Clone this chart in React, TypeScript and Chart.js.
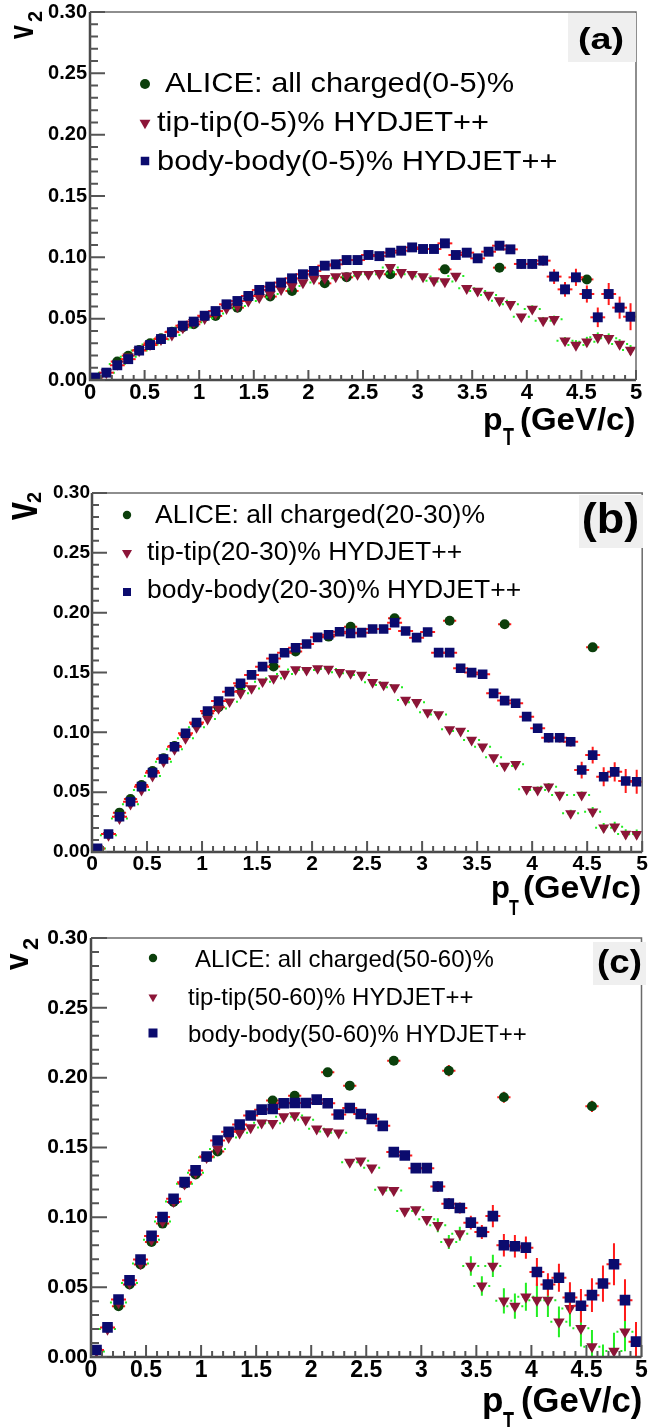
import React, { useEffect, useRef } from 'react';
import { Chart, registerables } from 'chart.js';

Chart.register(...registerables);

const FONT = '"Liberation Sans", Arial, Helvetica, sans-serif';
const SQ_COLOR = '#0b0b6e';
const TRI_COLOR = '#8c1538';
const CIR_COLOR = '#0b3f0b';
const PAGE_W = 649;

// ---------- tick labels ----------
const X_TICKS = [0, 0.5, 1, 1.5, 2, 2.5, 3, 3.5, 4, 4.5, 5];
const X_LABELS = ['0', '0.5', '1', '1.5', '2', '2.5', '3', '3.5', '4', '4.5', '5'];
const Y_TICKS = [0, 0.05, 0.1, 0.15, 0.2, 0.25, 0.3];
const Y_LABELS = ['0.00', '0.05', '0.10', '0.15', '0.20', '0.25', '0.30'];

// ---------- categories (pT bin centres, GeV/c) ----------
const PT = [0.05, 0.15, 0.25, 0.35, 0.45, 0.55, 0.65, 0.75, 0.85, 0.95,
  1.05, 1.15, 1.25, 1.35, 1.45, 1.55, 1.65, 1.75, 1.85, 1.95,
  2.05, 2.15, 2.25, 2.35, 2.45, 2.55, 2.65, 2.75, 2.85, 2.95,
  3.05, 3.15, 3.25, 3.35, 3.45, 3.55, 3.65, 3.75, 3.85, 3.95,
  4.05, 4.15, 4.25, 4.35, 4.45, 4.55, 4.65, 4.75, 4.85, 4.95];
const ALICE_PT = [0.25, 0.35, 0.45, 0.55, 0.65, 0.75, 0.85, 0.95, 1.05, 1.15,
  1.35, 1.65, 1.85, 2.15, 2.35, 2.75, 3.25, 3.75, 4.55];

// ---------- panel (a) 0-5% ----------
const ALICE_A = [0.015, 0.0198, 0.0245, 0.0299, 0.034, 0.0394, 0.043, 0.0454, 0.0516, 0.0522,
  0.059, 0.068, 0.0726, 0.0788, 0.0837, 0.0862, 0.0902, 0.0916, 0.082];
const ALICE_A_ERR = [0.001, 0.001, 0.001, 0.001, 0.001, 0.001, 0.001, 0.001, 0.001, 0.001,
  0.0015, 0.002, 0.002, 0.002, 0.002, 0.002, 0.002, 0.003, 0.003];
const TT_A = [0.003, 0.006, 0.013, 0.019, 0.024, 0.029, 0.033, 0.0367, 0.0427, 0.047,
  0.0503, 0.0543, 0.0584, 0.0603, 0.0644, 0.0674, 0.0701, 0.0739, 0.0766, 0.0794,
  0.0826, 0.083, 0.0843, 0.085, 0.0862, 0.0862, 0.0869, 0.0918, 0.0878, 0.0862,
  0.0843, 0.081, 0.0802, 0.0848, 0.0747, 0.0726, 0.0693, 0.0647, 0.0617, 0.0516,
  0.0579, 0.0484, 0.0495, 0.032, 0.0285, 0.0312, 0.0348, 0.034, 0.0293, 0.0245];
const TT_A_ERR = [0.001, 0.001, 0.001, 0.001, 0.001, 0.001, 0.001, 0.001, 0.001, 0.001,
  0.001, 0.001, 0.001, 0.001, 0.001, 0.001, 0.001, 0.001, 0.001, 0.001,
  0.001, 0.001, 0.001, 0.001, 0.001, 0.001, 0.001, 0.001, 0.001, 0.001,
  0.002, 0.002, 0.002, 0.002, 0.002, 0.002, 0.002, 0.002, 0.002, 0.002,
  0.003, 0.003, 0.003, 0.003, 0.004, 0.004, 0.004, 0.004, 0.004, 0.004];
const BB_A = [0.002, 0.006, 0.012, 0.017, 0.024, 0.0285, 0.0334, 0.039, 0.0443, 0.0476,
  0.0524, 0.0562, 0.0617, 0.0644, 0.0685, 0.0734, 0.0761, 0.0794, 0.0829, 0.0862,
  0.0889, 0.0932, 0.0943, 0.0978, 0.0978, 0.1019, 0.101, 0.1038, 0.1054, 0.1081,
  0.1068, 0.1068, 0.1114, 0.1019, 0.1038, 0.0992, 0.1046, 0.1095, 0.1065, 0.0946,
  0.0946, 0.0973, 0.0843, 0.0739, 0.0837, 0.0701, 0.0511, 0.0701, 0.059, 0.0516];
const BB_A_ERR = [0.001, 0.001, 0.001, 0.001, 0.001, 0.001, 0.001, 0.001, 0.001, 0.001,
  0.001, 0.001, 0.001, 0.001, 0.001, 0.001, 0.001, 0.001, 0.001, 0.001,
  0.001, 0.001, 0.001, 0.001, 0.001, 0.002, 0.002, 0.002, 0.002, 0.002,
  0.002, 0.002, 0.002, 0.002, 0.002, 0.002, 0.003, 0.003, 0.003, 0.004,
  0.004, 0.004, 0.006, 0.006, 0.007, 0.007, 0.008, 0.009, 0.009, 0.011];

// ---------- panel (b) 20-30% ----------
const ALICE_B = [0.0329, 0.0443, 0.056, 0.0677, 0.0783, 0.0885, 0.098, 0.107, 0.116, 0.121,
  0.139, 0.155, 0.1675, 0.18, 0.1883, 0.1953, 0.1933, 0.1903, 0.171];
const ALICE_B_ERR = [0.001, 0.001, 0.001, 0.001, 0.001, 0.001, 0.001, 0.001, 0.001, 0.001,
  0.002, 0.002, 0.002, 0.002, 0.002, 0.002, 0.002, 0.003, 0.003];
const TT_B = [0.003, 0.014, 0.028, 0.04, 0.0518, 0.0635, 0.0755, 0.0858, 0.095, 0.1042,
  0.1111, 0.12, 0.1256, 0.1326, 0.1367, 0.1423, 0.1451, 0.1487, 0.1526, 0.152,
  0.1534, 0.153, 0.1502, 0.1493, 0.1479, 0.1418, 0.1396, 0.1376, 0.127, 0.1251,
  0.1167, 0.115, 0.1025, 0.1011, 0.0936, 0.088, 0.0791, 0.0719, 0.0733, 0.0524,
  0.0518, 0.0546, 0.0476, 0.0323, 0.0476, 0.0337, 0.0203, 0.0212, 0.015, 0.0148];
const TT_B_ERR = [0.001, 0.001, 0.001, 0.001, 0.001, 0.001, 0.001, 0.001, 0.001, 0.001,
  0.001, 0.001, 0.001, 0.001, 0.001, 0.001, 0.001, 0.001, 0.001, 0.001,
  0.001, 0.001, 0.001, 0.001, 0.001, 0.001, 0.001, 0.001, 0.001, 0.001,
  0.002, 0.002, 0.002, 0.002, 0.002, 0.002, 0.002, 0.002, 0.002, 0.002,
  0.003, 0.003, 0.003, 0.003, 0.003, 0.004, 0.004, 0.004, 0.004, 0.004];
const BB_B = [0.003, 0.015, 0.0295, 0.042, 0.0546, 0.0663, 0.0777, 0.088, 0.0992, 0.1082,
  0.1178, 0.1262, 0.134, 0.141, 0.148, 0.1549, 0.1617, 0.1665, 0.1707, 0.1738,
  0.1794, 0.1816, 0.184, 0.1827, 0.1833, 0.1863, 0.1863, 0.1916, 0.1847, 0.1791,
  0.1838, 0.1666, 0.1666, 0.1535, 0.1499, 0.1485, 0.1326, 0.1265, 0.1243, 0.1131,
  0.1034, 0.0955, 0.0955, 0.0921, 0.0685, 0.081, 0.0629, 0.067, 0.0593, 0.0587];
const BB_B_ERR = [0.001, 0.001, 0.001, 0.001, 0.001, 0.001, 0.001, 0.001, 0.001, 0.001,
  0.001, 0.001, 0.001, 0.001, 0.001, 0.001, 0.001, 0.001, 0.001, 0.001,
  0.001, 0.001, 0.001, 0.001, 0.001, 0.001, 0.001, 0.001, 0.001, 0.001,
  0.002, 0.002, 0.002, 0.002, 0.002, 0.002, 0.002, 0.002, 0.003, 0.003,
  0.003, 0.004, 0.004, 0.004, 0.007, 0.007, 0.008, 0.008, 0.01, 0.01];

// ---------- panel (c) 50-60% ----------
const ALICE_C = [0.0364, 0.0519, 0.0662, 0.0824, 0.0955, 0.111, 0.124, 0.1307, 0.143, 0.1471,
  0.163, 0.1836, 0.1871, 0.2038, 0.1943, 0.2121, 0.205, 0.186, 0.1795];
const ALICE_C_ERR = [0.002, 0.002, 0.002, 0.002, 0.002, 0.002, 0.002, 0.002, 0.002, 0.002,
  0.003, 0.003, 0.003, 0.003, 0.003, 0.003, 0.004, 0.004, 0.004];
const TT_C = [0.004, 0.02, 0.039, 0.053, 0.067, 0.084, 0.097, 0.1114, 0.124, 0.132,
  0.143, 0.149, 0.1572, 0.1605, 0.1643, 0.1677, 0.1674, 0.1721, 0.1729, 0.1698,
  0.1634, 0.1615, 0.1605, 0.1395, 0.1405, 0.1355, 0.1198, 0.1193, 0.1045, 0.1055,
  0.0986, 0.0943, 0.0824, 0.0883, 0.0652, 0.0509, 0.0652, 0.0402, 0.0364, 0.0431,
  0.0407, 0.0407, 0.0252, 0.0348, 0.0205, 0.0074, -0.004, 0.0043, 0.0181, -0.003];
const TT_C_ERR = [0.001, 0.001, 0.001, 0.001, 0.001, 0.001, 0.001, 0.001, 0.001, 0.001,
  0.001, 0.001, 0.001, 0.001, 0.001, 0.001, 0.001, 0.001, 0.001, 0.001,
  0.001, 0.001, 0.001, 0.002, 0.002, 0.002, 0.002, 0.002, 0.002, 0.002,
  0.002, 0.005, 0.005, 0.005, 0.007, 0.007, 0.008, 0.009, 0.009, 0.01,
  0.012, 0.012, 0.011, 0.013, 0.013, 0.012, 0.013, 0.013, 0.014, 0.014];
const BB_C = [0.005, 0.0212, 0.0412, 0.055, 0.0698, 0.0867, 0.1002, 0.1133, 0.1252, 0.1336,
  0.1436, 0.155, 0.1612, 0.1665, 0.1729, 0.1771, 0.1776, 0.1817, 0.1819, 0.1819,
  0.1843, 0.1817, 0.1736, 0.1783, 0.174, 0.1705, 0.1655, 0.1467, 0.1443, 0.1352,
  0.1352, 0.1221, 0.1098, 0.1067, 0.0962, 0.0895, 0.1009, 0.08, 0.0793, 0.0783,
  0.0609, 0.0519, 0.0567, 0.0426, 0.0367, 0.0443, 0.0526, 0.0664, 0.0407, 0.011];
const BB_C_ERR = [0.001, 0.001, 0.001, 0.001, 0.001, 0.001, 0.001, 0.001, 0.001, 0.001,
  0.001, 0.001, 0.001, 0.001, 0.001, 0.001, 0.001, 0.001, 0.001, 0.001,
  0.001, 0.001, 0.001, 0.001, 0.001, 0.002, 0.002, 0.002, 0.002, 0.002,
  0.002, 0.004, 0.004, 0.004, 0.005, 0.005, 0.008, 0.008, 0.008, 0.008,
  0.01, 0.008, 0.01, 0.011, 0.012, 0.012, 0.013, 0.015, 0.015, 0.014];

// ---------- legend texts ----------
const LEGEND_A = ['ALICE: all charged(0-5)%', 'tip-tip(0-5)% HYDJET++', 'body-body(0-5)% HYDJET++'];
const LEGEND_B = ['ALICE: all charged(20-30)%', 'tip-tip(20-30)% HYDJET++', 'body-body(20-30)% HYDJET++'];
const LEGEND_C = ['ALICE: all charged(50-60)%', 'tip-tip(50-60)% HYDJET++', 'body-body(50-60)% HYDJET++'];

// ---------- layout (styles / positions only) ----------
const PANELS = [
  {
    key: 'a', top: 0, height: 460,
    area: { l: 90, t: 12, r: 636, b: 380 },
    alice: ALICE_A, aliceErr: ALICE_A_ERR, tt: TT_A, ttErr: TT_A_ERR, bb: BB_A, bbErr: BB_A_ERR, legend: LEGEND_A,
    yFont: 20, xFont: 22, yPad: 3, xPad: 0,
    ticks: { yMaj: 15, yMin: 8, xMaj: 10, xMin: 5 },
    marker: { rect: 7, tri: 6.6, cir: 5 },
    box: { x: 568, y: 13, w: 68, h: 49, text: '(a)', font: 29, sx: 1.3, cx: 601, base: 49 },
    leg: { mx: 145, rows: [84, 123, 161], tx: [165, 157, 157], base: [92, 131, 170], font: 28, sx: 1.1, cir: 5, tri: 6.3, sq: 8.5 },
    vT: { bx: 33, by: 39, font: 25, sy: 1.38, sbx: 42, su: 17, sfont: 20 },
    xT: { px: 483, py: 430, pfont: 32, tx: 503, ty: 445, tfont: 18, tsy: 1.3, rx: 520, rfont: 32, rsx: 1.03 },
  },
  {
    key: 'b', top: 460, height: 465,
    area: { l: 92, t: 33, r: 643, b: 392 },
    alice: ALICE_B, aliceErr: ALICE_B_ERR, tt: TT_B, ttErr: TT_B_ERR, bb: BB_B, bbErr: BB_B_ERR, legend: LEGEND_B,
    yFont: 19, xFont: 21, yPad: 2, xPad: 0,
    ticks: { yMaj: 15, yMin: 7, xMaj: 11, xMin: 6 },
    marker: { rect: 6.8, tri: 6.4, cir: 5 },
    box: { x: 579, y: 35, w: 64, h: 53, text: '(b)', font: 42, sx: 1.07, cx: 610.5, base: 73 },
    leg: { mx: 127, rows: [55, 93, 132], tx: [155, 147, 147], base: [63, 100, 138], font: 25, sx: 1.06, cir: 4.2, tri: 5.8, sq: 8 },
    vT: { bx: 37, by: 60, font: 32, sy: 1.43, sbx: 41, su: 17, sfont: 20 },
    xT: { px: 491, py: 438, pfont: 31, tx: 509, ty: 455, tfont: 16, tsy: 1.35, rx: 523, rfont: 31, rsx: 1.09 },
  },
  {
    key: 'c', top: 925, height: 502,
    area: { l: 91, t: 13, r: 648, b: 432 },
    alice: ALICE_C, aliceErr: ALICE_C_ERR, tt: TT_C, ttErr: TT_C_ERR, bb: BB_C, bbErr: BB_C_ERR, legend: LEGEND_C,
    yFont: 21, xFont: 23, yPad: 3, xPad: 0,
    ticks: { yMaj: 16, yMin: 8, xMaj: 12, xMin: 6 },
    marker: { rect: 7.5, tri: 6.6, cir: 5 },
    box: { x: 593, y: 17, w: 53, h: 43, text: '(c)', font: 34, sx: 1.08, cx: 619.5, base: 48 },
    leg: { mx: 153, rows: [33, 72, 108], tx: [195, 188, 188], base: [42, 80, 117], font: 24, sx: 1.0, cir: 4.2, tri: 5.2, sq: 9 },
    vT: { bx: 28, by: 45, font: 30, sy: 1.13, sbx: 38, su: 20, sfont: 22 },
    xT: { px: 482, py: 487, pfont: 35, tx: 503, ty: 505, tfont: 18, tsy: 1.4, rx: 521, rfont: 35, rsx: 0.99 },
  },
];

function drawMarker(ctx: CanvasRenderingContext2D, style: string, x: number, y: number, size: number, color: string) {
  ctx.fillStyle = color;
  ctx.beginPath();
  if (style === 'circle') {
    ctx.arc(x, y, size, 0, Math.PI * 2);
  } else if (style === 'triangle') {
    ctx.moveTo(x, y + size);
    ctx.lineTo(x - size * 0.866, y - size * 0.5);
    ctx.lineTo(x + size * 0.866, y - size * 0.5);
    ctx.closePath();
  } else {
    ctx.rect(x - size / 2, y - size / 2, size, size);
  }
  ctx.fill();
}

function drawText(ctx: CanvasRenderingContext2D, s: string, x: number, y: number, font: string, sx = 1, align: CanvasTextAlign = 'left', sy = 1) {
  ctx.save();
  ctx.translate(x, y);
  ctx.scale(sx, sy);
  ctx.font = font;
  ctx.fillStyle = '#000';
  ctx.textAlign = align;
  ctx.textBaseline = 'alphabetic';
  ctx.fillText(s, 0, 0);
  ctx.restore();
}

function makePlugin(P: any) {
  return {
    id: 'rootDecor' + P.key,
    beforeDatasetDraw(chart: any, args: any) {
      const ds: any = chart.data.datasets[args.index];
      if (!ds.errY) return;
      const { ctx, chartArea: ca } = chart;
      const xs = chart.scales.x;
      const ys = chart.scales.y;
      ctx.save();
      ctx.beginPath();
      ctx.rect(ca.left, ca.top, ca.right - ca.left, ca.bottom - ca.top);
      ctx.clip();
      ctx.strokeStyle = ds.errColor;
      ctx.lineWidth = 2;
      ds.data.forEach((p: any, i: number) => {
        const px = xs.getPixelForValue(p.x);
        const py = ys.getPixelForValue(p.y);
        const e = ds.errY[i];
        ctx.setLineDash(ds.hDash || []);
        ctx.beginPath();
        ctx.moveTo(xs.getPixelForValue(p.x - ds.errX), py);
        ctx.lineTo(xs.getPixelForValue(p.x + ds.errX), py);
        ctx.stroke();
        ctx.setLineDash([]);
        ctx.beginPath();
        ctx.moveTo(px, ys.getPixelForValue(p.y - e));
        ctx.lineTo(px, ys.getPixelForValue(p.y + e));
        ctx.stroke();
      });
      ctx.restore();
    },
    afterDraw(chart: any) {
      const { ctx, chartArea: ca } = chart;
      const xs = chart.scales.x;
      const ys = chart.scales.y;
      ctx.save();
      ctx.strokeStyle = '#6a6a6a';
      ctx.lineWidth = 1.5;
      ctx.beginPath();
      ctx.moveTo(ca.left, ca.top);
      ctx.lineTo(ca.right, ca.top);
      ctx.lineTo(ca.right, ca.bottom);
      ctx.stroke();
      ctx.strokeStyle = '#4a4a4a';
      ctx.lineWidth = 2.5;
      ctx.beginPath();
      ctx.moveTo(ca.left, ca.top);
      ctx.lineTo(ca.left, ca.bottom);
      ctx.lineTo(ca.right, ca.bottom);
      ctx.stroke();
      ctx.lineWidth = 2;
      ctx.strokeStyle = '#555';
      ctx.beginPath();
      for (let k = 0; k <= 30; k++) {
        const py = ys.getPixelForValue(k / 100);
        const len = k % 5 === 0 ? P.ticks.yMaj : P.ticks.yMin;
        ctx.moveTo(ca.left, py);
        ctx.lineTo(ca.left + len, py);
      }
      for (let k = 0; k <= 50; k++) {
        const px = xs.getPixelForValue(k / 10);
        const len = k % 5 === 0 ? P.ticks.xMaj : P.ticks.xMin;
        ctx.moveTo(px, ca.bottom);
        ctx.lineTo(px, ca.bottom - len);
      }
      ctx.stroke();

      const B = P.box;
      ctx.fillStyle = '#efefef';
      ctx.fillRect(B.x, B.y, B.w, B.h);
      drawText(ctx, B.text, B.cx, B.base, `bold ${B.font}px ${FONT}`, B.sx, 'center');

      const L = P.leg;
      const ds = chart.data.datasets;
      const styles = ['circle', 'triangle', 'rect'];
      const colors = [CIR_COLOR, TRI_COLOR, SQ_COLOR];
      const sizes = [L.cir, L.tri, L.sq];
      for (let i = 0; i < 3; i++) {
        drawMarker(ctx, styles[i], L.mx, L.rows[i], sizes[i], colors[i]);
        drawText(ctx, ds[i].label, L.tx[i], L.base[i], `${L.font}px ${FONT}`, L.sx);
      }

      const V = P.vT;
      ctx.fillStyle = '#000';
      ctx.save();
      ctx.translate(V.bx, V.by);
      ctx.rotate(-Math.PI / 2);
      ctx.scale(1, V.sy);
      ctx.font = `bold ${V.font}px ${FONT}`;
      ctx.textBaseline = 'alphabetic';
      ctx.fillText('v', 0, 0);
      ctx.restore();
      ctx.save();
      ctx.translate(V.sbx, V.by);
      ctx.rotate(-Math.PI / 2);
      ctx.font = `bold ${V.sfont}px ${FONT}`;
      ctx.textBaseline = 'alphabetic';
      ctx.fillText('2', V.su, 0);
      ctx.restore();

      const X = P.xT;
      drawText(ctx, 'p', X.px, X.py, `bold ${X.pfont}px ${FONT}`);
      drawText(ctx, 'T', X.tx, X.ty, `bold ${X.tfont}px ${FONT}`, 1, 'left', X.tsy);
      drawText(ctx, '(GeV/c)', X.rx, X.py, `bold ${X.rfont}px ${FONT}`, X.rsx);
      ctx.restore();
    },
  };
}

function buildConfig(P: any): any {
  const datasets = [
    {
      label: P.legend[0],
      data: ALICE_PT.map((x, i) => ({ x, y: P.alice[i] })),
      pointStyle: 'circle', pointRadius: P.marker.cir, pointHoverRadius: P.marker.cir,
      backgroundColor: CIR_COLOR, borderColor: CIR_COLOR, borderWidth: 0,
      showLine: false, order: 2,
      errY: P.aliceErr, errX: 0.06, errColor: '#ff1a1a', hDash: [],
    },
    {
      label: P.legend[1],
      data: PT.map((x, i) => ({ x, y: P.tt[i] })),
      pointStyle: 'triangle', pointRotation: 180, pointRadius: P.marker.tri, pointHoverRadius: P.marker.tri,
      backgroundColor: TRI_COLOR, borderColor: TRI_COLOR, borderWidth: 0,
      showLine: false, order: 1,
      clip: { left: 12, right: 12, top: 12, bottom: 0 },
      errY: P.ttErr, errX: 0.078, errColor: '#22ee22', hDash: [2, 3],
    },
    {
      label: P.legend[2],
      data: PT.map((x, i) => ({ x, y: P.bb[i] })),
      pointStyle: 'rect', pointRadius: P.marker.rect, pointHoverRadius: P.marker.rect,
      backgroundColor: SQ_COLOR, borderColor: SQ_COLOR, borderWidth: 0,
      showLine: false, order: 0,
      errY: P.bbErr, errX: 0.068, errColor: '#ff1a1a', hDash: [],
    },
  ];
  return {
    type: 'scatter',
    data: { datasets },
    plugins: [makePlugin(P)],
    options: {
      animation: false,
      responsive: false,
      maintainAspectRatio: false,
      devicePixelRatio: 1,
      events: [],
      layout: { padding: { left: 0, top: P.area.t, right: PAGE_W - P.area.r, bottom: 0 } },
      plugins: { legend: { display: false }, tooltip: { enabled: false }, title: { display: false } },
      scales: {
        x: {
          type: 'linear', min: 0, max: 5,
          afterBuildTicks: (s: any) => { s.ticks = X_TICKS.map((v) => ({ value: v })); },
          afterFit: (s: any) => { s.height = P.height - P.area.b; s.paddingLeft = 0; s.paddingRight = 0; },
          grid: { display: false, drawTicks: false },
          border: { display: false },
          ticks: {
            autoSkip: false, maxRotation: 0, minRotation: 0, padding: P.xPad, color: '#000',
            font: { family: FONT, size: P.xFont, weight: 'bold' },
            callback: (_v: any, i: number) => X_LABELS[i],
          },
        },
        y: {
          type: 'linear', min: 0, max: 0.3,
          afterBuildTicks: (s: any) => { s.ticks = Y_TICKS.map((v) => ({ value: v })); },
          afterFit: (s: any) => { s.width = P.area.l; s.paddingTop = 0; s.paddingBottom = 0; },
          grid: { display: false, drawTicks: false },
          border: { display: false },
          ticks: {
            autoSkip: false, padding: P.yPad, color: '#000',
            font: { family: FONT, size: P.yFont, weight: 'bold' },
            callback: (_v: any, i: number) => Y_LABELS[i],
          },
        },
      },
    },
  };
}

function Panel({ P }: { P: any }) {
  const ref = useRef<HTMLCanvasElement | null>(null);
  useEffect(() => {
    if (!ref.current) return;
    const chart = new Chart(ref.current, buildConfig(P));
    return () => chart.destroy();
  }, [P]);
  return (
    <canvas
      ref={ref}
      width={PAGE_W}
      height={P.height}
      style={{ position: 'absolute', left: 0, top: P.top, width: PAGE_W, height: P.height, display: 'block' }}
    />
  );
}

export default function App() {
  return (
    <div style={{ position: 'absolute', left: 0, top: 0, width: PAGE_W, height: 1427, background: '#fff', overflow: 'hidden' }}>
      {PANELS.map((P) => (
        <Panel key={P.key} P={P} />
      ))}
    </div>
  );
}
